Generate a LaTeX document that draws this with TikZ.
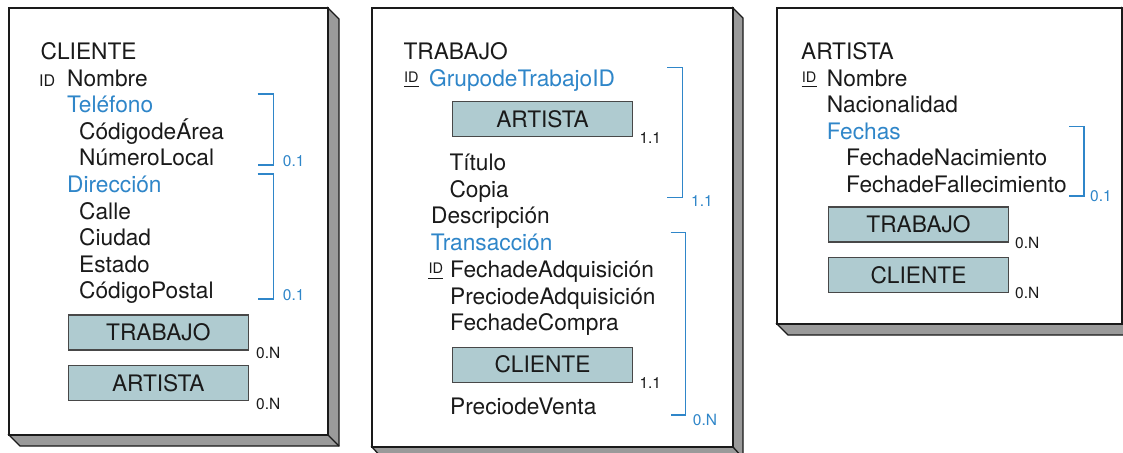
\documentclass[tikz,border=0pt]{standalone}
\usepackage{fontspec}
\setmainfont{TeX Gyre Heros}
\definecolor{eblue}{HTML}{2F86C9}
\definecolor{boxfill}{HTML}{AFCBD0}
\definecolor{shade}{HTML}{9A9A9A}
\definecolor{ink}{HTML}{1A1A1A}
\begin{document}
\begin{tikzpicture}[x=1pt,y=-1pt,
  txt/.style={anchor=base west, inner sep=0pt, font=\fontsize{22.7}{26}\selectfont, text=ink},
  btxt/.style={txt, text=eblue},
  sm/.style={anchor=base west, inner sep=0pt, font=\fontsize{15.5}{18}\selectfont, text=ink},
  bsm/.style={sm, text=eblue},
  idu/.style={anchor=base west, inner sep=0pt, font=\fontsize{14.5}{16}\selectfont, text=ink},
  ebox/.style={draw=ink!80, line width=1.2pt, fill=boxfill, minimum width=180pt, minimum height=35pt, inner sep=0pt, font=\fontsize{22.7}{26}\selectfont, text=ink},
  brk/.style={draw=eblue, line width=1.3pt},
  panelbox/.style={draw=ink, line width=1.3pt, fill=white},
  panelshade/.style={draw=ink, line width=1.3pt, fill=shade, line join=miter}]
\useasboundingbox (0,0) rectangle (1123,452);

% ---------- Panel 1: CLIENTE ----------
\draw[panelshade] (328,8) -- (339,19) -- (339,446) -- (20,446) -- (9,435) -- (328,435) -- cycle;
\draw[ink, line width=1.3pt] (328,435) -- (339,446);
\draw[panelbox] (9,8) rectangle (328,435);

\node[txt] (c1t) at (40.5,59.3) {CLIENTE};
\node[sm, font=\fontsize{16}{18}\selectfont] (c1id) at (39,86) {ID};
\node[txt] (c1a) at (67,86) {Nombre};
\node[btxt] (c1b) at (67,112.6) {Teléfono};
\node[txt] (c1c) at (79,139.2) {CódigodeÁrea};
\node[txt] (c1d) at (79,165.8) {NúmeroLocal};
\node[btxt] (c1e) at (67,192.4) {Dirección};
\node[txt] (c1f) at (79,219) {Calle};
\node[txt] (c1g) at (79,245.6) {Ciudad};
\node[txt] (c1h) at (79,272.2) {Estado};
\node[txt] (c1i) at (79,298.8) {CódigoPostal};
\draw[brk] (257.7,94) -- (273.3,94) -- (273.3,165) -- (257.7,165);
\node[bsm] (c1l1) at (282.7,166.5) {0.1};
\draw[brk] (257.7,174) -- (273.3,174) -- (273.3,299) -- (257.7,299);
\node[bsm] (c1l2) at (282.7,300.5) {0.1};
\node[ebox] (c1bx1) at (158.3,332.5) {TRABAJO};
\node[sm] (c1l3) at (256,358.3) {0.N};
\node[ebox] (c1bx2) at (158.3,383.2) {ARTISTA};
\node[sm] (c1l4) at (256,409) {0.N};

% ---------- Panel 2: TRABAJO ----------
\draw[panelshade] (733,8) -- (743,18) -- (743,458) -- (382,458) -- (372,447) -- (733,447) -- cycle;
\draw[ink, line width=1.3pt] (733,447) -- (743,458);
\draw[panelbox] (372,8) rectangle (733,447);

\node[txt] (t1t) at (403.3,59.3) {TRABAJO};
\node[idu] (t1id) at (404,82) {ID};
\draw[ink, line width=0.9pt] (t1id.south west |- 0,86.5) -- (t1id.south east |- 0,86.5);
\node[btxt] (t1a) at (429,86) {GrupodeTrabajoID};
\node[ebox] (t1bx1) at (542.5,119.2) {ARTISTA};
\node[sm] (t1l1) at (639.3,143.3) {1.1};
\node[txt] (t1b) at (449.3,170.7) {Título};
\node[txt] (t1c) at (449.3,197.3) {Copia};
\node[txt] (t1d) at (431,223.9) {Descripción};
\node[btxt] (t1e) at (430.7,250.5) {Transacción};
\node[idu] (t2id) at (428.3,273.5) {ID};
\draw[ink, line width=0.9pt] (t2id.south west |- 0,278) -- (t2id.south east |- 0,278);
\node[txt] (t1f) at (450,277.5) {FechadeAdquisición};
\node[txt] (t1g) at (450,304.1) {PreciodeAdquisición};
\node[txt] (t1h) at (450,330.7) {FechadeCompra};
\node[ebox] (t1bx2) at (542.5,364.7) {CLIENTE};
\node[sm] (t1l2) at (639.3,388.3) {1.1};
\node[txt] (t1i) at (450,414.3) {PreciodeVenta};
\draw[brk] (667.3,67.3) -- (682.7,67.3) -- (682.7,197.7) -- (667.3,197.7);
\node[bsm] (t1l3) at (691,206.7) {1.1};
\draw[brk] (670.7,232.3) -- (685.7,232.3) -- (685.7,415) -- (670.7,415);
\node[bsm] (t1l4) at (692.7,425) {0.N};

% ---------- Panel 3: ARTISTA ----------
\draw[panelshade] (1122,8) -- (1133,19) -- (1133,335) -- (788,335) -- (777,324) -- (1122,324) -- cycle;
\draw[panelbox] (777,8) rectangle (1122,324);

\node[txt] (a1t) at (801,59.3) {ARTISTA};
\node[idu] (a1id) at (801.7,82) {ID};
\draw[ink, line width=0.9pt] (a1id.south west |- 0,86.5) -- (a1id.south east |- 0,86.5);
\node[txt] (a1a) at (826.7,86) {Nombre};
\node[txt] (a1b) at (826.7,112.6) {Nacionalidad};
\node[btxt] (a1c) at (826.7,139.2) {Fechas};
\node[txt] (a1d) at (846,165.8) {FechadeNacimiento};
\node[txt] (a1e) at (846,192.4) {FechadeFallecimiento};
\draw[brk] (1069.3,126.7) -- (1084,126.7) -- (1084,196) -- (1069.3,196);
\node[bsm] (a1l1) at (1090,201.7) {0.1};
\node[ebox] (a1bx1) at (918.5,224.5) {TRABAJO};
\node[sm] (a1l2) at (1015,248.3) {0.N};
\node[ebox] (a1bx2) at (918.5,275.2) {CLIENTE};
\node[sm] (a1l3) at (1015,298.3) {0.N};
\end{tikzpicture}
\end{document}
